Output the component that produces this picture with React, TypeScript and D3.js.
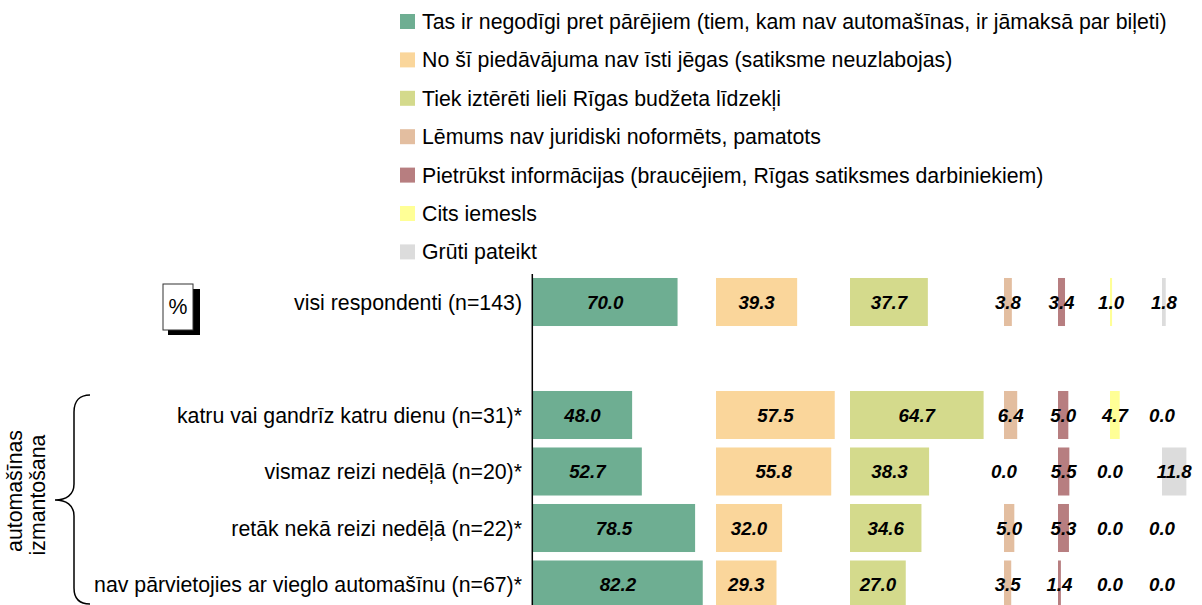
import React from "react";
import * as d3 from "d3";

// ---- data ----
const SERIES = [
  "Tas ir negodīgi pret pārējiem (tiem, kam nav automašīnas, ir jāmaksā par biļeti)",
  "No šī piedāvājuma nav īsti jēgas (satiksme neuzlabojas)",
  "Tiek iztērēti lieli Rīgas budžeta līdzekļi",
  "Lēmums nav juridiski noformēts, pamatots",
  "Pietrūkst informācijas (braucējiem, Rīgas satiksmes darbiniekiem)",
  "Cits iemesls",
  "Grūti pateikt",
];
const CATEGORIES = [
  "visi respondenti (n=143)",
  "",
  "katru vai gandrīz katru dienu (n=31)*",
  "vismaz reizi nedēļā (n=20)*",
  "retāk nekā reizi nedēļā (n=22)*",
  "nav pārvietojies ar vieglo automašīnu (n=67)*",
];
const S1 = [70.0, null, 48.0, 52.7, 78.5, 82.2];
const S2 = [39.3, null, 57.5, 55.8, 32.0, 29.3];
const S3 = [37.7, null, 64.7, 38.3, 34.6, 27.0];
const S4 = [3.8, null, 6.4, 0.0, 5.0, 3.5];
const S5 = [3.4, null, 5.0, 5.5, 5.3, 1.4];
const S6 = [1.0, null, 4.7, 0.0, 0.0, 0.0];
const S7 = [1.8, null, 0.0, 11.8, 0.0, 0.0];
const VALUES = [S1, S2, S3, S4, S5, S6, S7];
const GROUP_LABEL = ["automašīnas", "izmantošana"];

// ---- styles / layout ----
const COLORS = ["#6EAE92", "#FAD69B", "#D4DA8C", "#E3BEA0", "#B77E80", "#FFFF96", "#DCDCDC"];
const COL_X = [533, 716, 850, 1004, 1058, 1110, 1162];
const FONT = "'Liberation Sans', Arial, sans-serif";
const W = 1202;
const H = 605;

export default function App() {
  const x = d3.scaleLinear().domain([0, 100]).range([0, 206.5]);
  const y = d3
    .scaleBand<number>()
    .domain(CATEGORIES.map((_, i) => i))
    .range([273.75, 612.75])
    .paddingInner(0.15)
    .paddingOuter(0.075);
  const bw = y.bandwidth();

  const legendY = d3.scaleLinear().domain([0, 1]).range([14, 52.4]);

  const brace = d3.path();
  brace.moveTo(90, 395);
  brace.bezierCurveTo(80, 395, 74, 401, 74, 412);
  brace.lineTo(74, 484);
  brace.bezierCurveTo(74, 495, 66, 500, 55, 500);
  brace.bezierCurveTo(66, 500, 74, 505, 74, 516);
  brace.lineTo(74, 588);
  brace.bezierCurveTo(74, 599, 80, 604, 90, 604);

  return (
    <div style={{ position: "fixed", left: 0, top: 0, width: W, height: H, background: "#fff" }}>
      <svg width={W} height={H} style={{ display: "block" }} fontFamily={FONT}>
        {/* legend */}
        {SERIES.map((s, i) => (
          <g key={s} transform={`translate(400,${legendY(i)})`}>
            <rect width={15} height={15} fill={COLORS[i]} />
            <text x={22} y={15} fontSize={21.3} fill="#000">
              {s}
            </text>
          </g>
        ))}

        {/* percent box */}
        <rect x={168} y={289} width={32} height={46} fill="#000" />
        <rect x={163} y={284} width={30} height={46} fill="#fff" stroke="#333" strokeWidth={1} />
        <text x={178} y={314} fontSize={21.3} textAnchor="middle">
          %
        </text>

        {/* category labels */}
        {CATEGORIES.map((c, i) =>
          c ? (
            <text
              key={i}
              x={522}
              y={(y(i) as number) + bw / 2 + 7.5}
              fontSize={21.3}
              textAnchor="end"
              fill="#000"
            >
              {c}
            </text>
          ) : null
        )}

        {/* group brace and label */}
        <path d={brace.toString()} fill="none" stroke="#000" strokeWidth={1.5} />
        <g transform="translate(22,491) rotate(-90)">
          <text x={0} y={0} fontSize={21.3} textAnchor="middle">
            {GROUP_LABEL[0]}
          </text>
        </g>
        <g transform="translate(45,495) rotate(-90)">
          <text x={0} y={0} fontSize={21.3} textAnchor="middle">
            {GROUP_LABEL[1]}
          </text>
        </g>

        {/* bars */}
        {VALUES.map((vals, si) => (
          <g key={si} transform={`translate(${COL_X[si]},0)`}>
            {vals.map((v, ci) =>
              v === null ? null : (
                <g key={ci}>
                  <rect x={0} y={y(ci)} width={x(v)} height={bw} fill={COLORS[si]} />
                  <text
                    x={x(v) / 2}
                    y={(y(ci) as number) + bw / 2 + 6.7}
                    fontSize={18.7}
                    fontWeight="bold"
                    fontStyle="italic"
                    textAnchor="middle"
                    fill="#000"
                  >
                    {v.toFixed(1)}
                  </text>
                </g>
              )
            )}
          </g>
        ))}

        {/* axis line */}
        <line x1={532.3} x2={532.3} y1={274} y2={H} stroke="#000" strokeWidth={1.5} />
      </svg>
    </div>
  );
}
